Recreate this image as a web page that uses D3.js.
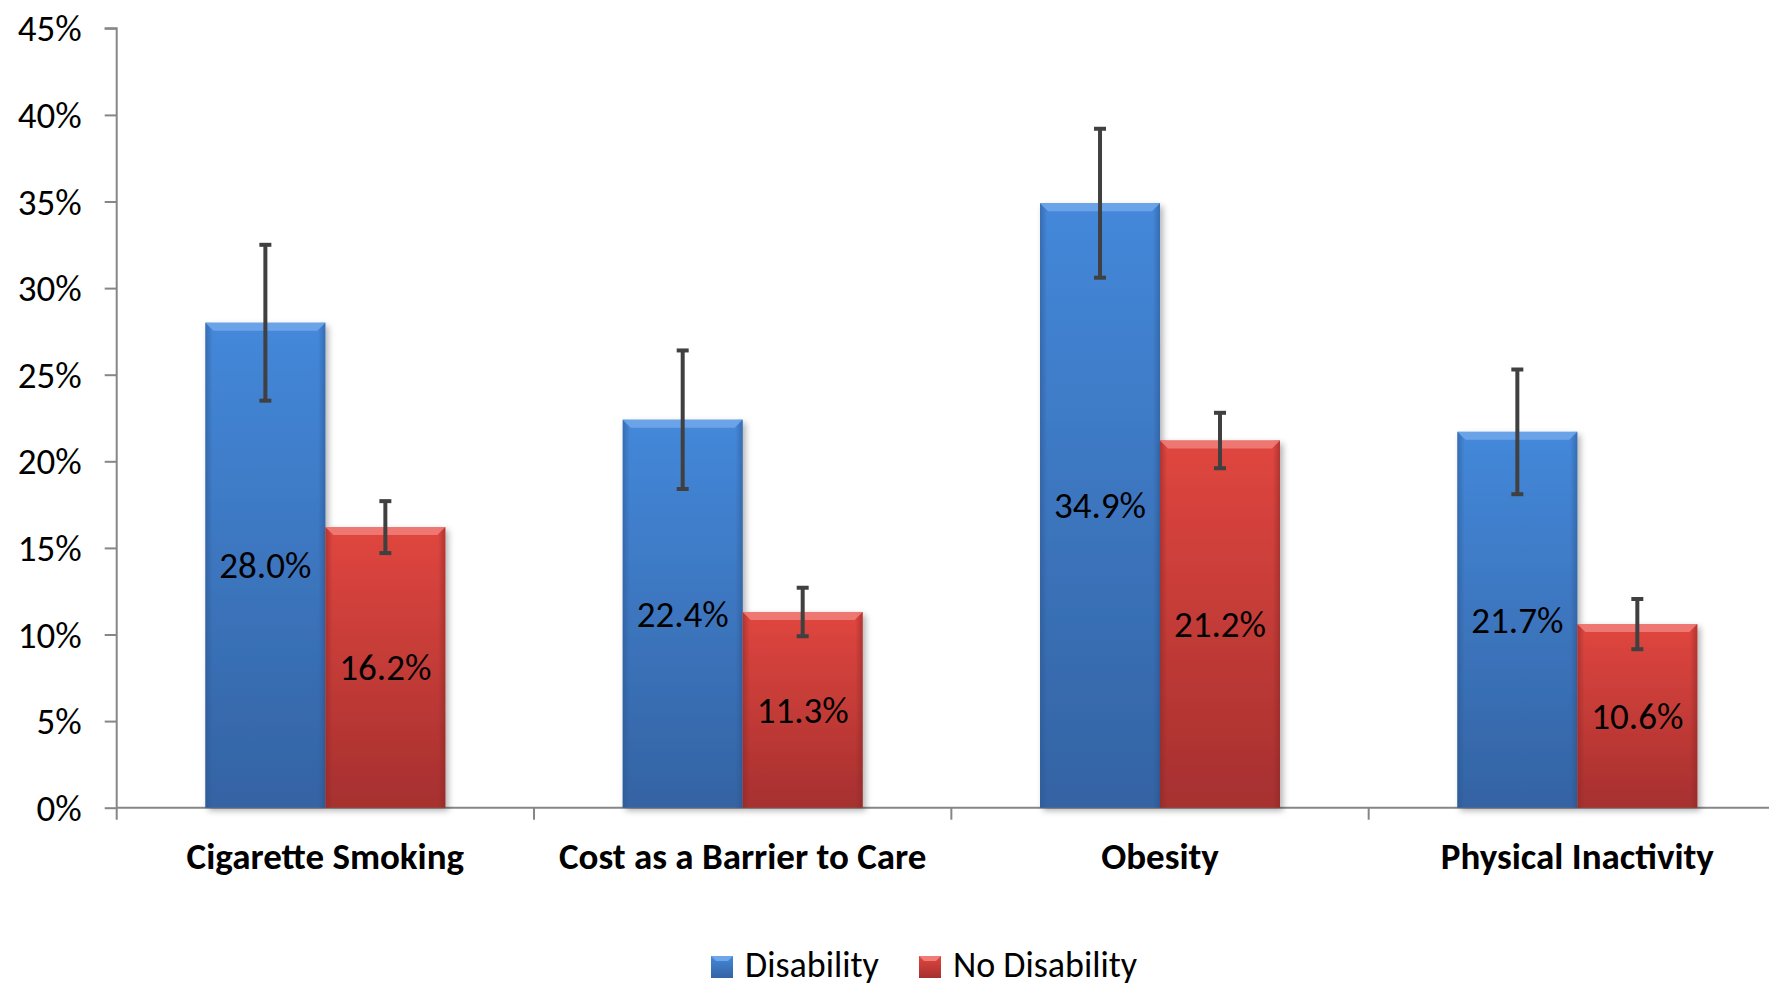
<!DOCTYPE html>
<html>
<head>
<meta charset="utf-8">
<script src="https://cdn.jsdelivr.net/npm/d3@7"></script>
<style>
html,body{margin:0;padding:0;background:#fff;}
svg{display:block;}
text{font-family:Carlito,Calibri,Lato,"Noto Sans",sans-serif;fill:#000;}
</style>
</head>
<body>
<svg id="chart" width="1769" height="987"></svg>
<script>
const categories = ["Cigarette Smoking","Cost as a Barrier to Care","Obesity","Physical Inactivity"];
const series = ["Disability","No Disability"];
const disability = [28.0, 22.4, 34.9, 21.7];
const noDisability = [16.2, 11.3, 21.2, 10.6];
const disabilityErr = [4.5, 4.0, 4.3, 3.6];
const noDisabilityErr = [1.5, 1.4, 1.6, 1.45];
const yTicks = [0,5,10,15,20,25,30,35,40,45];

const colors = {
  "Disability": {top:"#4488da", bottom:"#3463a3", bevel:"#6fa6ea", edge:"#2c5690"},
  "No Disability": {top:"#e0463f", bottom:"#a6302f", bevel:"#f07c78", edge:"#8a2826"}
};

const svg = d3.select("#chart");
const W = 1769, H = 987;
const left = 116.7, right = 1786, y0 = 807.7, yTop = 28.3;

const x = d3.scaleBand().domain(categories).range([left, right]).paddingInner(0).paddingOuter(0);
const xs = d3.scaleBand().domain(series).range([0, x.bandwidth()]).paddingInner(0).paddingOuter(0.739);
const y = d3.scaleLinear().domain([0,45]).range([y0, yTop]);

const rows = categories.map((c,i)=>({cat:c, vals:[
  {s:"Disability", v:disability[i], e:disabilityErr[i]},
  {s:"No Disability", v:noDisability[i], e:noDisabilityErr[i]}
]}));

const defs = svg.append("defs");
series.forEach((s,i)=>{
  const g = defs.append("linearGradient").attr("id","grad"+i).attr("x1",0).attr("y1",0).attr("x2",0).attr("y2",1);
  g.append("stop").attr("offset","0%").attr("stop-color",colors[s].top);
  g.append("stop").attr("offset","100%").attr("stop-color",colors[s].bottom);
  const h = defs.append("linearGradient").attr("id","side"+i).attr("x1",0).attr("y1",0).attr("x2",1).attr("y2",0);
  h.append("stop").attr("offset","0%").attr("stop-color",colors[s].edge).attr("stop-opacity",0.55);
  h.append("stop").attr("offset","6%").attr("stop-color",colors[s].edge).attr("stop-opacity",0);
  h.append("stop").attr("offset","94%").attr("stop-color",colors[s].edge).attr("stop-opacity",0);
  h.append("stop").attr("offset","100%").attr("stop-color",colors[s].edge).attr("stop-opacity",0.55);
});
const f = defs.append("filter").attr("id","shadow").attr("x","-10%").attr("y","-10%").attr("width","130%").attr("height","130%");
f.append("feDropShadow").attr("dx",3).attr("dy",3).attr("stdDeviation",3).attr("flood-color","#000").attr("flood-opacity",0.3);

// Y axis
const yAxis = d3.axisLeft(y).tickValues(yTicks).tickFormat(d=>d+"%").tickSize(12).tickPadding(23);
const ga = svg.append("g").attr("transform",`translate(${left},0)`).call(yAxis);
ga.select(".domain").attr("stroke","#868686").attr("stroke-width",2).attr("d",`M-12,${yTop}H0V${y0}`);
ga.selectAll(".tick line").attr("stroke","#868686").attr("stroke-width",2);
ga.selectAll(".tick text").style("font-size","37px").attr("fill","#000").attr("dy","0.34em");

// X axis
svg.append("line").attr("x1",left).attr("x2",W).attr("y1",y0).attr("y2",y0).attr("stroke","#868686").attr("stroke-width",2);
const bounds = categories.map(c=>x(c)).concat([x(categories[categories.length-1])+x.bandwidth()]);
svg.selectAll(".xtick").data(bounds.filter(b=>b<W)).join("line").attr("class","xtick")
  .attr("x1",d=>d).attr("x2",d=>d).attr("y1",y0).attr("y2",y0+12).attr("stroke","#868686").attr("stroke-width",2);

// Bars
const groups = svg.selectAll(".cat").data(rows).join("g").attr("class","cat")
  .attr("transform",d=>`translate(${x(d.cat)},0)`);
const bars = groups.selectAll(".bar").data(d=>d.vals).join("g").attr("class","bar");
bars.append("rect")
  .attr("x",d=>xs(d.s)).attr("y",d=>y(d.v)).attr("width",xs.bandwidth()).attr("height",d=>y0-y(d.v))
  .attr("fill",(d)=>`url(#grad${series.indexOf(d.s)})`).attr("filter","url(#shadow)");
bars.append("rect")
  .attr("x",d=>xs(d.s)).attr("y",d=>y(d.v)).attr("width",xs.bandwidth()).attr("height",d=>y0-y(d.v))
  .attr("fill",(d)=>`url(#side${series.indexOf(d.s)})`);
bars.append("path")
  .attr("d",d=>{const bx=xs(d.s), by=y(d.v), bw=xs.bandwidth(), b=8;
    return `M${bx},${by}H${bx+bw}L${bx+bw-b},${by+b}H${bx+b}Z`;})
  .attr("fill",d=>colors[d.s].bevel).attr("opacity",0.9);

// Error bars
const eb = bars.append("g").attr("stroke","#404040").attr("stroke-width",4).attr("fill","none");
eb.append("line").attr("x1",d=>xs(d.s)+xs.bandwidth()/2).attr("x2",d=>xs(d.s)+xs.bandwidth()/2)
  .attr("y1",d=>y(d.v+d.e)).attr("y2",d=>y(d.v-d.e));
eb.append("line").attr("x1",d=>xs(d.s)+xs.bandwidth()/2-6).attr("x2",d=>xs(d.s)+xs.bandwidth()/2+6)
  .attr("y1",d=>y(d.v+d.e)).attr("y2",d=>y(d.v+d.e));
eb.append("line").attr("x1",d=>xs(d.s)+xs.bandwidth()/2-6).attr("x2",d=>xs(d.s)+xs.bandwidth()/2+6)
  .attr("y1",d=>y(d.v-d.e)).attr("y2",d=>y(d.v-d.e));

// Value labels
bars.append("text")
  .attr("x",d=>xs(d.s)+xs.bandwidth()/2).attr("y",d=>(y(d.v)+y0)/2)
  .attr("text-anchor","middle").attr("dy","0.35em").style("font-size","37px")
  .text(d=>d.v.toFixed(1)+"%");

// Category labels
svg.selectAll(".catlabel").data(categories).join("text").attr("class","catlabel")
  .attr("x",d=>x(d)+x.bandwidth()/2).attr("y",869).attr("text-anchor","middle")
  .style("font-size","37px").style("font-weight","bold").text(d=>d);

// Legend
const legendItems = [{s:"Disability", x:711},{s:"No Disability", x:919}];
const lg = svg.selectAll(".leg").data(legendItems).join("g").attr("class","leg")
  .attr("transform",d=>`translate(${d.x},956)`);
lg.append("rect").attr("width",22).attr("height",22).attr("fill",d=>`url(#grad${series.indexOf(d.s)})`);
lg.append("path").attr("d","M0,0H22L17,5H5Z").attr("fill",d=>colors[d.s].bevel);
lg.append("text").attr("x",34).attr("y",21).style("font-size","36px").text(d=>d.s);
</script>
</body>
</html>
